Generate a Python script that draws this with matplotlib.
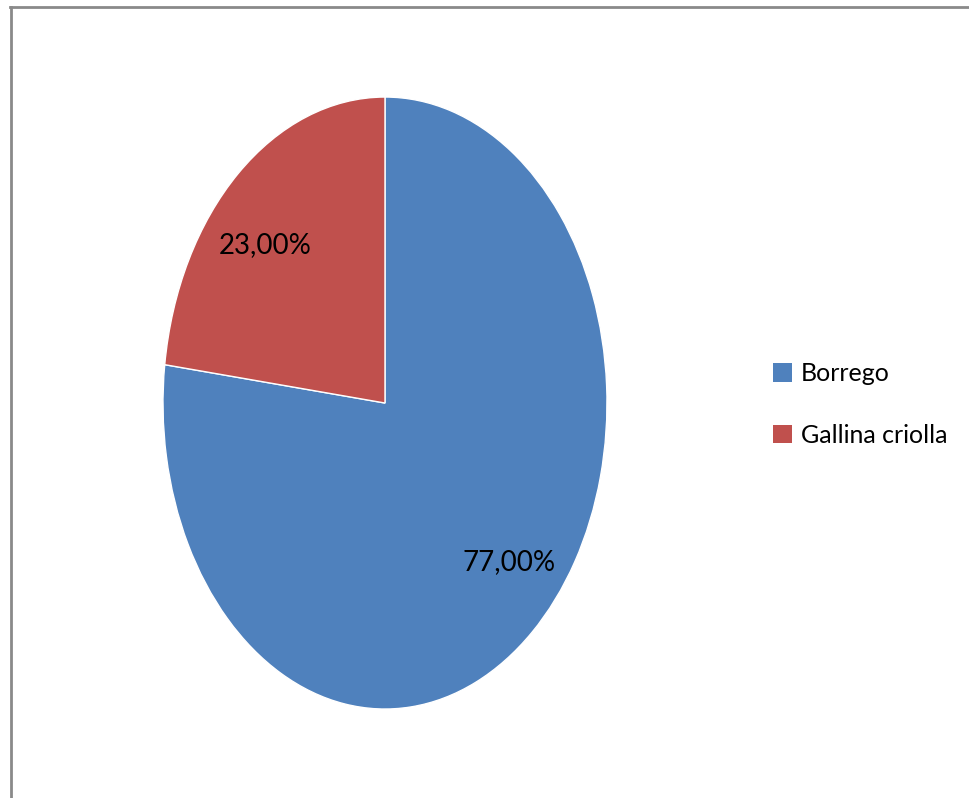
import matplotlib
matplotlib.use('Agg')
import matplotlib.pyplot as plt
from matplotlib.lines import Line2D
from matplotlib.patches import Patch

plt.rcParams['font.family'] = ['Lato', 'DejaVu Sans']

# Data
categories = ['Borrego', 'Gallina criolla']
values = [77.0, 23.0]
colors = ['#4F81BD', '#C0504D']
value_labels = ['77,00%', '23,00%']

fig = plt.figure(figsize=(9.69, 7.98), dpi=100)

# pie area (stretched ellipse, like the original)
ax = fig.add_axes([0.1682, 0.1115, 0.4582, 0.7669])
wedges, _ = ax.pie(values, colors=colors, startangle=90, counterclock=False,
                   radius=1, wedgeprops=dict(edgecolor='white', linewidth=1))
ax.set_aspect('auto')
ax.set_xlim(-1, 1)
ax.set_ylim(-1, 1)
ax.axis('off')

# label positions inside slices
label_pos = [(0.559, -0.52), (-0.54, 0.516)]
for (x, y), txt in zip(label_pos, value_labels):
    ax.text(x, y, txt, ha='center', va='center', fontsize=20, color='black')

# legend
handles = [Patch(facecolor=c, edgecolor='none') for c in colors]
fig.legend(handles, categories, loc='center left', bbox_to_anchor=(0.775, 0.493),
           frameon=False, fontsize=18, handlelength=0.75, handleheight=0.75,
           handletextpad=0.35, labelspacing=1.55)

# chart border (top and left visible)
border = '#8a8a8a'
fig.add_artist(Line2D([11 / 969, 11 / 969], [0, 1 - 7 / 798], color=border, lw=2,
                      transform=fig.transFigure))
fig.add_artist(Line2D([10 / 969, 1], [1 - 7 / 798, 1 - 7 / 798], color=border, lw=2,
                      transform=fig.transFigure))

fig.savefig('out.png', dpi=100, facecolor='white')
